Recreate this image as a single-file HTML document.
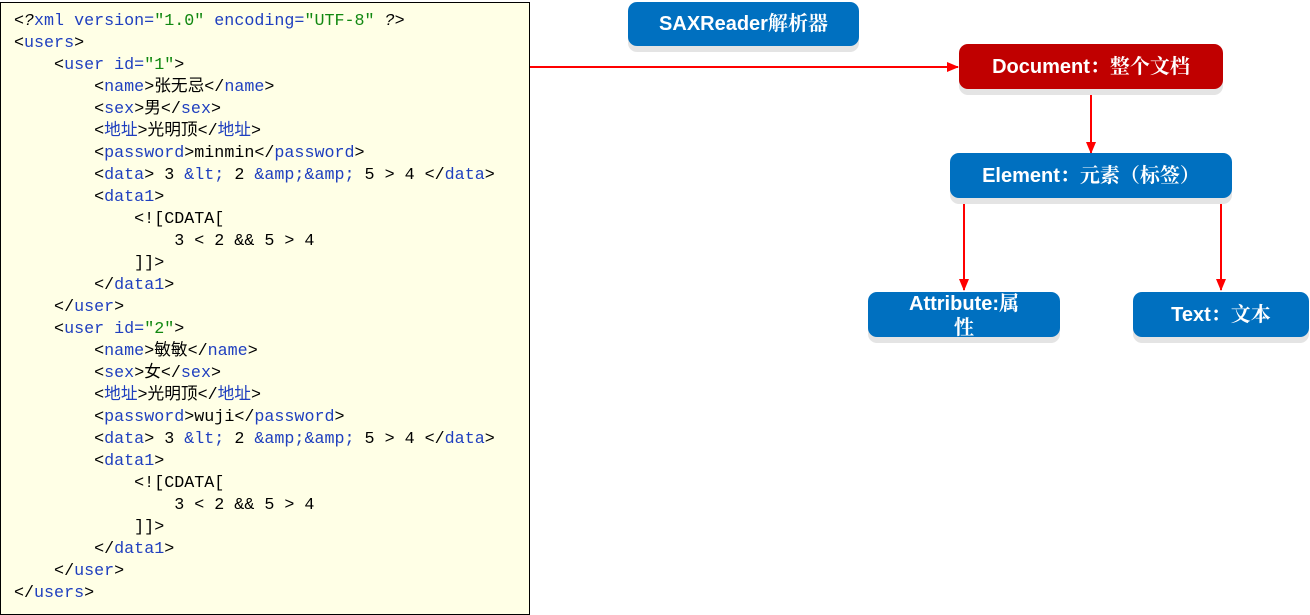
<!DOCTYPE html>
<html><head><meta charset="utf-8"><style>
body{margin:0;width:1310px;height:615px;background:#fff;position:relative;overflow:hidden;font-family:"Liberation Sans","Noto Sans CJK SC",sans-serif}
#code{position:absolute;left:0;top:2px;width:528px;height:611px;background:#ffffe6;border:1px solid #000;}
pre{position:absolute;left:14px;top:11px;margin:0;font-family:"Liberation Mono","Noto Sans CJK SC",monospace;font-size:16.7px;line-height:22px;color:#000}
.t{color:#1f3fbf}.v{color:#118811}.i{font-style:italic}
.box{position:absolute;color:#fff;font-family:"Liberation Sans Narrow","Liberation Sans","Noto Serif CJK SC",sans-serif;font-weight:bold;font-size:20px;display:flex;align-items:center;justify-content:center;text-align:center;border-radius:9px;background:#0070c0;box-shadow:0 6px 0 #e4e4e4;line-height:24px}
</style></head><body>
<div id="code"></div>
<pre><span class="i">&lt;?</span><span class="t">xml version=</span><span class="v">"1.0"</span> <span class="t">encoding=</span><span class="v">"UTF-8"</span> <span class="i">?&gt;</span>
&lt;<span class="t">users</span>&gt;
    &lt;<span class="t">user id=</span><span class="v">"1"</span>&gt;
        &lt;<span class="t">name</span>&gt;张无忌&lt;/<span class="t">name</span>&gt;
        &lt;<span class="t">sex</span>&gt;男&lt;/<span class="t">sex</span>&gt;
        &lt;<span class="t">地址</span>&gt;光明顶&lt;/<span class="t">地址</span>&gt;
        &lt;<span class="t">password</span>&gt;minmin&lt;/<span class="t">password</span>&gt;
        &lt;<span class="t">data</span>&gt; 3 <span class="t">&amp;lt;</span> 2 <span class="t">&amp;amp;&amp;amp;</span> 5 &gt; 4 &lt;/<span class="t">data</span>&gt;
        &lt;<span class="t">data1</span>&gt;
            &lt;![CDATA[
                3 &lt; 2 &amp;&amp; 5 &gt; 4
            ]]&gt;
        &lt;/<span class="t">data1</span>&gt;
    &lt;/<span class="t">user</span>&gt;
    &lt;<span class="t">user id=</span><span class="v">"2"</span>&gt;
        &lt;<span class="t">name</span>&gt;敏敏&lt;/<span class="t">name</span>&gt;
        &lt;<span class="t">sex</span>&gt;女&lt;/<span class="t">sex</span>&gt;
        &lt;<span class="t">地址</span>&gt;光明顶&lt;/<span class="t">地址</span>&gt;
        &lt;<span class="t">password</span>&gt;wuji&lt;/<span class="t">password</span>&gt;
        &lt;<span class="t">data</span>&gt; 3 <span class="t">&amp;lt;</span> 2 <span class="t">&amp;amp;&amp;amp;</span> 5 &gt; 4 &lt;/<span class="t">data</span>&gt;
        &lt;<span class="t">data1</span>&gt;
            &lt;![CDATA[
                3 &lt; 2 &amp;&amp; 5 &gt; 4
            ]]&gt;
        &lt;/<span class="t">data1</span>&gt;
    &lt;/<span class="t">user</span>&gt;
&lt;/<span class="t">users</span>&gt;</pre>

<svg style="position:absolute;left:0;top:0" width="1310" height="615">
<defs><marker id="a" markerWidth="12" markerHeight="10" refX="11" refY="5" orient="auto" markerUnits="userSpaceOnUse"><path d="M0,0 L12,5 L0,10 z" fill="#f00"/></marker></defs>
<g stroke="#f00" stroke-width="2" fill="none">
<line x1="530" y1="67" x2="958" y2="67" marker-end="url(#a)"/>
<line x1="1091" y1="89" x2="1091" y2="153" marker-end="url(#a)"/>
<line x1="964" y1="204" x2="964" y2="290" marker-end="url(#a)"/>
<line x1="1221" y1="204" x2="1221" y2="290" marker-end="url(#a)"/>
</g></svg>

<div class="box" style="left:628px;top:2px;width:231px;height:44px">SAXReader解析器</div>
<div class="box" style="left:959px;top:44px;width:264px;height:45px;background:#c00000">Document：整个文档</div>
<div class="box" style="left:950px;top:153px;width:282px;height:45px">Element：元素（标签）</div>
<div class="box" style="left:868px;top:294px;width:192px;height:45px;align-items:flex-start;line-height:24px;margin-top:-2px">Attribute:属<br>性</div>
<div class="box" style="left:1133px;top:292px;width:176px;height:45px">Text：文本</div>
</body></html>
